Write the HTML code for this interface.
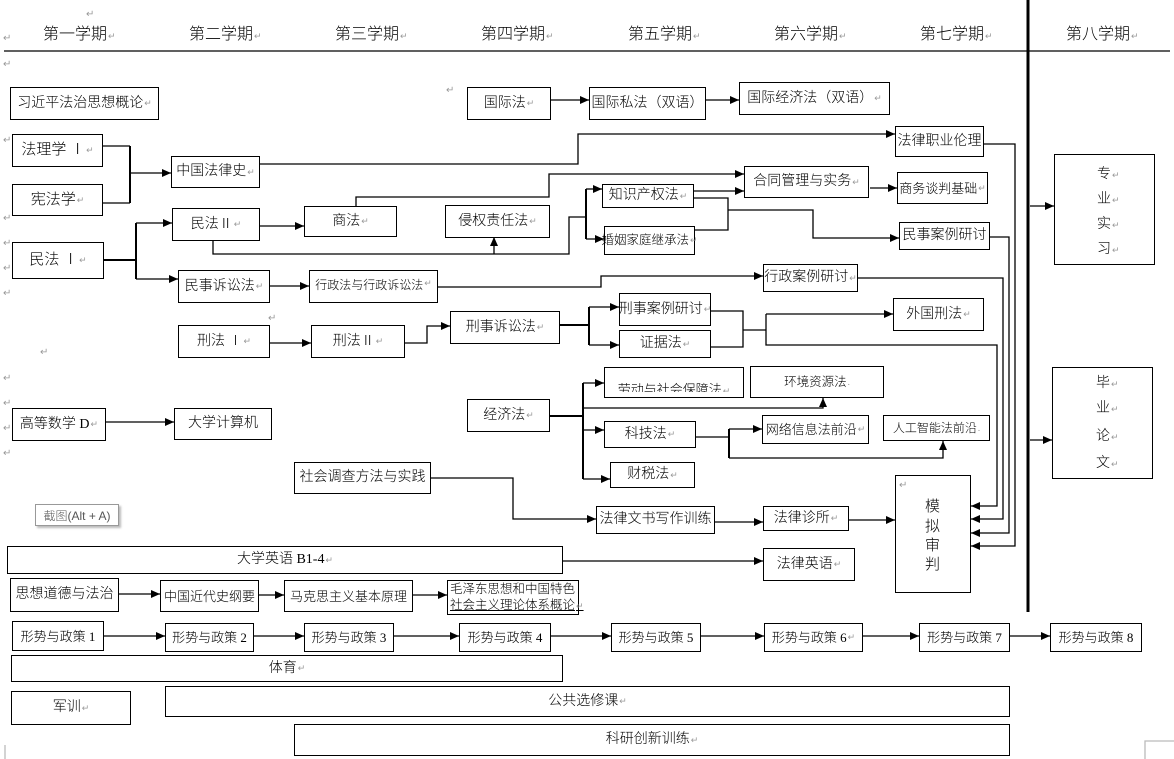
<!DOCTYPE html>
<html><head><meta charset="utf-8">
<style>
*{margin:0;padding:0;box-sizing:border-box}
body{width:1174px;height:759px;background:#fff;overflow:hidden}
#c{position:relative;width:1174px;height:759px;font-family:"Liberation Serif","Noto Sans CJK SC",sans-serif;font-weight:300;color:#000}
.b{position:absolute;border:1px solid #000;background:#fff;display:flex;align-items:center;justify-content:center;white-space:nowrap;font-size:14px;line-height:1}
.h{position:absolute;top:26px;font-size:16px;white-space:nowrap;line-height:18px}
i{font-style:normal;color:#999;font-size:9px;margin-left:1px}
.m{position:absolute;color:#999;font-size:10px;line-height:1}
.v{position:absolute;font-size:15px;line-height:1}
svg{position:absolute;left:0;top:0;z-index:5}
</style></head><body><div id="c">

<div class="h" style="left:43px">第一学期<i>↵</i></div>
<div class="h" style="left:189px">第二学期<i>↵</i></div>
<div class="h" style="left:335px">第三学期<i>↵</i></div>
<div class="h" style="left:481px">第四学期<i>↵</i></div>
<div class="h" style="left:628px">第五学期<i>↵</i></div>
<div class="h" style="left:774px">第六学期<i>↵</i></div>
<div class="h" style="left:920px">第七学期<i>↵</i></div>
<div class="h" style="left:1066px">第八学期<i>↵</i></div>

<div class="m" style="left:86px;top:10px">↵</div>
<div class="m" style="left:3px;top:34px">↵</div>
<div class="m" style="left:3px;top:60px">↵</div>
<div class="m" style="left:3px;top:136px">↵</div>
<div class="m" style="left:3px;top:214px">↵</div>
<div class="m" style="left:3px;top:239px">↵</div>
<div class="m" style="left:3px;top:264px">↵</div>
<div class="m" style="left:3px;top:289px">↵</div>
<div class="m" style="left:40px;top:348px">↵</div>
<div class="m" style="left:3px;top:374px">↵</div>
<div class="m" style="left:3px;top:399px">↵</div>
<div class="m" style="left:3px;top:424px">↵</div>
<div class="m" style="left:3px;top:449px">↵</div>
<div class="m" style="left:268px;top:314px">↵</div>
<div class="m" style="left:446px;top:86px">↵</div>

<div class="b" style="left:10px;top:87px;width:149px;height:33px">习近平法治思想概论<i>↵</i></div>
<div class="b" style="left:12px;top:134px;width:91px;height:33px;font-size:15px">法理学 Ⅰ<i>↵</i></div>
<div class="b" style="left:12px;top:184px;width:91px;height:32px;font-size:15px">宪法学<i>↵</i></div>
<div class="b" style="left:171px;top:156px;width:89px;height:32px">中国法律史<i>↵</i></div>
<div class="b" style="left:12px;top:242px;width:92px;height:37px;font-size:15px">民法 Ⅰ<i>↵</i></div>
<div class="b" style="left:172px;top:208px;width:88px;height:33px">民法Ⅱ<i>↵</i></div>
<div class="b" style="left:178px;top:270px;width:92px;height:33px">民事诉讼法<i>↵</i></div>
<div class="b" style="left:304px;top:206px;width:93px;height:31px">商法<i>↵</i></div>
<div class="b" style="left:445px;top:205px;width:105px;height:33px">侵权责任法<i>↵</i></div>
<div class="b" style="left:602px;top:184px;width:92px;height:24px">知识产权法<i>↵</i></div>
<div class="b" style="left:604px;top:226px;width:91px;height:29px;font-size:12.5px">婚姻家庭继承法<i>↵</i></div>
<div class="b" style="left:744px;top:166px;width:125px;height:32px">合同管理与实务<i>↵</i></div>
<div class="b" style="left:897px;top:172px;width:91px;height:32px;font-size:13px">商务谈判基础<i>↵</i></div>
<div class="b" style="left:899px;top:222px;width:91px;height:28px">民事案例研讨</div>
<div class="b" style="left:895px;top:126px;width:89px;height:31px">法律职业伦理</div>
<div class="b" style="left:467px;top:87px;width:84px;height:33px">国际法<i>↵</i></div>
<div class="b" style="left:589px;top:87px;width:117px;height:33px">国际私法（双语）</div>
<div class="b" style="left:739px;top:82px;width:151px;height:33px">国际经济法（双语）<i>↵</i></div>
<div class="b" style="left:309px;top:270px;width:129px;height:33px;font-size:12px;align-items:flex-start;padding-top:8px">行政法与行政诉讼法<i>↵</i></div>
<div class="b" style="left:763px;top:264px;width:95px;height:28px">行政案例研讨<i>↵</i></div>
<div class="b" style="left:178px;top:325px;width:92px;height:33px">刑法 Ⅰ<i>↵</i></div>
<div class="b" style="left:311px;top:325px;width:94px;height:33px">刑法Ⅱ<i>↵</i></div>
<div class="b" style="left:450px;top:311px;width:110px;height:33px">刑事诉讼法<i>↵</i></div>
<div class="b" style="left:619px;top:293px;width:92px;height:33px">刑事案例研讨<i>↵</i></div>
<div class="b" style="left:619px;top:330px;width:92px;height:28px">证据法<i>↵</i></div>
<div class="b" style="left:893px;top:298px;width:91px;height:33px">外国刑法<i>↵</i></div>
<div class="b" style="left:12px;top:408px;width:94px;height:33px">高等数学 D<i>↵</i></div>
<div class="b" style="left:174px;top:408px;width:98px;height:32px">大学计算机</div>
<div class="b" style="left:467px;top:399px;width:83px;height:33px">经济法<i>↵</i></div>
<div class="b" style="left:604px;top:367px;width:140px;height:31px;overflow:hidden;align-items:flex-start;font-size:13px"><div style="height:24px;overflow:hidden;padding-top:15px">劳动与社会保障法<i>↵</i></div></div>
<div class="b" style="left:750px;top:366px;width:134px;height:32px;font-size:12.5px">环境资源法<i>.</i></div>
<div class="b" style="left:604px;top:421px;width:92px;height:27px">科技法<i>↵</i></div>
<div class="b" style="left:762px;top:415px;width:107px;height:29px;font-size:13px">网络信息法前沿<i>↵</i></div>
<div class="b" style="left:883px;top:415px;width:107px;height:26px;font-size:12px">人工智能法前沿<i>.</i></div>
<div class="b" style="left:610px;top:462px;width:85px;height:26px">财税法<i>↵</i></div>
<div class="b" style="left:294px;top:462px;width:137px;height:32px">社会调查方法与实践</div>
<div class="b" style="left:596px;top:506px;width:119px;height:28px">法律文书写作训练</div>
<div class="b" style="left:763px;top:506px;width:86px;height:25px">法律诊所<i>↵</i></div>
<div class="b" style="left:895px;top:475px;width:76px;height:118px;display:block">
  <div class="m" style="left:3px;top:5px">↵</div>
  <div class="v" style="left:29px;top:24px">模</div>
  <div class="v" style="left:29px;top:44px">拟</div>
  <div class="v" style="left:29px;top:63px">审</div>
  <div class="v" style="left:29px;top:82px">判</div>
</div>
<div class="b" style="left:7px;top:546px;width:556px;height:28px">大学英语 B1-4<i>↵</i></div>
<div class="b" style="left:763px;top:548px;width:92px;height:33px">法律英语<i>↵</i></div>
<div class="b" style="left:10px;top:578px;width:109px;height:34px">思想道德与法治</div>
<div class="b" style="left:160px;top:580px;width:99px;height:32px;font-size:13px">中国近代史纲要</div>
<div class="b" style="left:284px;top:580px;width:129px;height:32px;font-size:13px">马克思主义基本原理</div>
<div class="b" style="left:447px;top:580px;width:132px;height:35px;font-size:12.5px;flex-direction:column;align-items:flex-start;justify-content:center;padding-left:2px;line-height:16px"><div>毛泽东思想和中国特色</div><div style="text-decoration:underline">社会主义理论体系概论<i>↵</i></div></div>

<div class="b" style="left:12px;top:621px;width:92px;height:30px;font-size:13px">形势与政策 1</div>
<div class="b" style="left:165px;top:623px;width:89px;height:29px;font-size:13px">形势与政策 2</div>
<div class="b" style="left:304px;top:623px;width:90px;height:29px;font-size:13px">形势与政策 3</div>
<div class="b" style="left:459px;top:623px;width:92px;height:29px;font-size:13px">形势与政策 4</div>
<div class="b" style="left:611px;top:623px;width:90px;height:29px;font-size:13px">形势与政策 5</div>
<div class="b" style="left:764px;top:623px;width:99px;height:29px;font-size:13px">形势与政策 6<i>↵</i></div>
<div class="b" style="left:919px;top:623px;width:91px;height:29px;font-size:13px">形势与政策 7</div>
<div class="b" style="left:1050px;top:623px;width:92px;height:29px;font-size:13px">形势与政策 8</div>
<div class="b" style="left:11px;top:655px;width:552px;height:27px">体育<i>↵</i></div>
<div class="b" style="left:11px;top:691px;width:120px;height:34px">军训<i>↵</i></div>
<div class="b" style="left:165px;top:686px;width:845px;height:31px">公共选修课<i>↵</i></div>
<div class="b" style="left:294px;top:724px;width:716px;height:32px">科研创新训练<i>↵</i></div>

<div class="b" style="left:1054px;top:154px;width:101px;height:111px;display:block;font-size:14px">
  <div class="v" style="left:42px;top:13px;font-size:14px">专<i>↵</i></div>
  <div class="v" style="left:42px;top:38px;font-size:14px">业<i>↵</i></div>
  <div class="v" style="left:42px;top:63px;font-size:14px">实<i>↵</i></div>
  <div class="v" style="left:42px;top:88px;font-size:14px">习<i>↵</i></div>
</div>
<div class="b" style="left:1052px;top:367px;width:101px;height:112px;display:block">
  <div class="v" style="left:43px;top:9px;font-size:14px">毕<i>↵</i></div>
  <div class="v" style="left:43px;top:34px;font-size:14px">业<i>↵</i></div>
  <div class="v" style="left:43px;top:62px;font-size:14px">论<i>↵</i></div>
  <div class="v" style="left:43px;top:89px;font-size:14px">文<i>↵</i></div>
</div>

<div style="position:absolute;left:35px;top:504px;width:84px;height:22px;border:1px solid #999;background:#fff;box-shadow:2px 2px 2px #bbb;font-family:'Liberation Sans','Noto Sans CJK SC',sans-serif;font-size:12px;color:#555;display:flex;align-items:center;justify-content:center;white-space:nowrap">截图(Alt + A)</div>

<svg width="1174" height="759" viewBox="0 0 1174 759">
<defs>
<marker id="a" viewBox="0 0 10 10" refX="10" refY="5" markerWidth="9" markerHeight="8" markerUnits="userSpaceOnUse" orient="auto" preserveAspectRatio="none"><path d="M0,0L10,5L0,10z" fill="#000"/></marker>
</defs>
<g fill="none" stroke="#000" stroke-width="1.3">
<path d="M4,51H1170"/>
<path d="M102,146H130M102,203H130"/>
<path d="M130,146V203" stroke-width="2"/>
<path d="M130,173H171" marker-end="url(#a)"/>
<path d="M103,260H136" stroke-width="2"/>
<path d="M136,223V279" stroke-width="2"/>
<path d="M136,223H172" marker-end="url(#a)"/>
<path d="M136,279H178" marker-end="url(#a)"/>
<path d="M259,226H304" marker-end="url(#a)"/>
<path d="M213,240V254H569V217H586"/>
<path d="M494,254V237" marker-end="url(#a)"/>
<path d="M586,189V239" stroke-width="2"/>
<path d="M586,189H602" marker-end="url(#a)"/>
<path d="M586,239H604" marker-end="url(#a)"/>
<path d="M356,206V197H549V174H744" marker-end="url(#a)"/>
<path d="M259,164H578V134H895" marker-end="url(#a)"/>
<path d="M693,191H744" marker-end="url(#a)"/>
<path d="M693,198H728V230H694"/>
<path d="M728,210H813V238H899" marker-end="url(#a)"/>
<path d="M870,188H897" marker-end="url(#a)"/>
<path d="M550,100H589" marker-end="url(#a)"/>
<path d="M705,100H739" marker-end="url(#a)"/>
<path d="M269,286H309" marker-end="url(#a)"/>
<path d="M437,287H601V276H763" marker-end="url(#a)"/>
<path d="M857,278H1003V519H971" marker-end="url(#a)"/>
<path d="M983,144H1015V546H971" marker-end="url(#a)"/>
<path d="M989,237H1009V533H971" marker-end="url(#a)"/>
<path d="M269,343H311" marker-end="url(#a)"/>
<path d="M404,343H427V326H450" marker-end="url(#a)"/>
<path d="M559,325H589" stroke-width="2"/>
<path d="M589,307V345" stroke-width="2"/>
<path d="M589,307H619" marker-end="url(#a)"/>
<path d="M589,345H619" marker-end="url(#a)"/>
<path d="M710,311H743V347H710M743,330H766"/>
<path d="M766,314H893" marker-end="url(#a)"/>
<path d="M766,314V345H997V506H971" marker-end="url(#a)"/>
<path d="M105,422H174" marker-end="url(#a)"/>
<path d="M549,416H583" stroke-width="2"/>
<path d="M583,383V479" stroke-width="2"/>
<path d="M583,383H604" marker-end="url(#a)"/>
<path d="M583,430H604" marker-end="url(#a)"/>
<path d="M583,479H610" marker-end="url(#a)"/>
<path d="M583,408H823V398" marker-end="url(#a)"/>
<path d="M695,437H729"/>
<path d="M729,429V458" stroke-width="2"/>
<path d="M729,429H762" marker-end="url(#a)"/>
<path d="M729,458H943V441" marker-end="url(#a)"/>
<path d="M430,478H513V519H596" marker-end="url(#a)"/>
<path d="M714,522H763" marker-end="url(#a)"/>
<path d="M848,520H895" marker-end="url(#a)"/>
<path d="M562,561H763" marker-end="url(#a)"/>
<path d="M118,594H160" marker-end="url(#a)"/>
<path d="M258,595H284" marker-end="url(#a)"/>
<path d="M412,595H447" marker-end="url(#a)"/>
<path d="M103,636H165" marker-end="url(#a)"/>
<path d="M253,636H304" marker-end="url(#a)"/>
<path d="M393,636H459" marker-end="url(#a)"/>
<path d="M550,636H611" marker-end="url(#a)"/>
<path d="M700,636H764" marker-end="url(#a)"/>
<path d="M862,636H919" marker-end="url(#a)"/>
<path d="M1009,636H1050" marker-end="url(#a)"/>
<path d="M1028,0V612" stroke-width="3"/>
<path d="M1030,206H1054" marker-end="url(#a)"/>
<path d="M1030,440H1052" marker-end="url(#a)"/>
<path d="M5,745V759" stroke="#bbb"/>
<path d="M1145,759V741H1174" stroke="#bbb"/>
</g>
</svg>
</div></body></html>
